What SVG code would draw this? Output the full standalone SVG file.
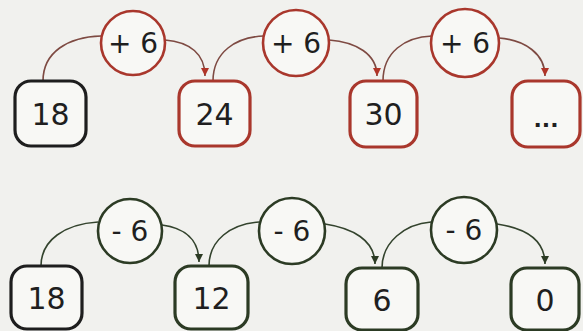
<svg xmlns="http://www.w3.org/2000/svg" width="583" height="331" viewBox="0 0 583 331">
  <style>
    .bg { fill: #f1f1ee; }
    .box { fill: #f8f8f5; stroke-width: 3.2; }
    .start { stroke: #1e1e1e; }
    .red { stroke: #a9372c; }
    .green { stroke: #2c3b24; }
    .op { fill: #f8f8f5; stroke-width: 2.6; }
    .link { fill: none; stroke-width: 1.6; }
    .link-red { stroke: #7e4a42; }
    .link-green { stroke: #33432d; }
    .num { font-family: "DejaVu Sans", "Liberation Sans", sans-serif; font-size: 30px; fill: #1f1f1f; text-anchor: middle; }
    .opt { font-family: "DejaVu Sans", "Liberation Sans", sans-serif; font-size: 28px; fill: #1f1f1f; text-anchor: middle; }
    .dots { font-family: "DejaVu Sans", "Liberation Sans", sans-serif; font-size: 22px; font-weight: bold; fill: #1f1f1f; text-anchor: middle; }
  </style>
  <defs>
    <marker id="arrow-red" markerUnits="userSpaceOnUse" markerWidth="10" markerHeight="10" refX="8" refY="4" orient="auto">
      <path d="M0,0 L8,4 L0,8 Z" fill="#b03528"/>
    </marker>
    <marker id="arrow-green" markerUnits="userSpaceOnUse" markerWidth="10" markerHeight="10" refX="8" refY="4" orient="auto">
      <path d="M0,0 L8,4 L0,8 Z" fill="#2c3b24"/>
    </marker>
  </defs>

  <rect class="bg" x="0" y="0" width="583" height="331"/>

  <!-- connectors: counting up by 6 -->
  <g id="connectors-add">
    <path class="link link-red" d="M43,81 C43,52 68,37 101,36"/>
    <path class="link link-red" d="M165,40 C190,42 205,54 205,76" marker-end="url(#arrow-red)"/>
    <path class="link link-red" d="M213,81 C213,52 236,37 264,36"/>
    <path class="link link-red" d="M329,40 C356,42 377,54 377,76" marker-end="url(#arrow-red)"/>
    <path class="link link-red" d="M383,81 C383,52 405,37 432,36"/>
    <path class="link link-red" d="M499,38 C525,40 545,54 545,76" marker-end="url(#arrow-red)"/>
  </g>

  <!-- connectors: counting down by 6 -->
  <g id="connectors-sub">
    <path class="link link-green" d="M41,266 C41,240 65,224 98,222"/>
    <path class="link link-green" d="M162,225 C185,228 199,240 199,262" marker-end="url(#arrow-green)"/>
    <path class="link link-green" d="M209,266 C209,240 231,224 259,222"/>
    <path class="link link-green" d="M325,224 C352,228 375,240 375,264" marker-end="url(#arrow-green)"/>
    <path class="link link-green" d="M382,268 C382,242 405,224 431,222"/>
    <path class="link link-green" d="M497,224 C525,228 545,240 545,264" marker-end="url(#arrow-green)"/>
  </g>

  <!-- top row -->
  <g id="add-18">
    <rect class="box start" x="15" y="81" width="71" height="65" rx="16"/>
    <text class="num" x="50.5" y="125">18</text>
  </g>
  <g id="add-op-1">
    <circle class="op red" cx="133" cy="43" r="32"/>
    <text class="opt" x="133" y="53">+ 6</text>
  </g>
  <g id="add-24">
    <rect class="box red" x="179" y="81" width="71" height="65" rx="16"/>
    <text class="num" x="214.5" y="125">24</text>
  </g>
  <g id="add-op-2">
    <circle class="op red" cx="296" cy="43" r="33"/>
    <text class="opt" x="296" y="53">+ 6</text>
  </g>
  <g id="add-30">
    <rect class="box red" x="350" y="81" width="67" height="66" rx="16"/>
    <text class="num" x="383.5" y="125">30</text>
  </g>
  <g id="add-op-3">
    <circle class="op red" cx="465" cy="43" r="34"/>
    <text class="opt" x="465" y="53">+ 6</text>
  </g>
  <g id="add-next">
    <rect class="box red" x="512" y="81" width="68" height="66" rx="16"/>
    <text class="dots" x="546" y="127">...</text>
  </g>

  <!-- bottom row -->
  <g id="sub-18">
    <rect class="box start" x="11" y="266" width="71" height="63" rx="16"/>
    <text class="num" x="46.5" y="309">18</text>
  </g>
  <g id="sub-op-1">
    <circle class="op green" cx="130" cy="231" r="32"/>
    <text class="opt" x="130" y="241">- 6</text>
  </g>
  <g id="sub-12">
    <rect class="box green" x="175" y="266" width="73" height="63" rx="16"/>
    <text class="num" x="211.5" y="309">12</text>
  </g>
  <g id="sub-op-2">
    <circle class="op green" cx="292" cy="231" r="33"/>
    <text class="opt" x="292" y="241">- 6</text>
  </g>
  <g id="sub-6">
    <rect class="box green" x="346" y="268" width="72" height="62" rx="16"/>
    <text class="num" x="382" y="311">6</text>
  </g>
  <g id="sub-op-3">
    <circle class="op green" cx="464" cy="230" r="33"/>
    <text class="opt" x="464" y="240">- 6</text>
  </g>
  <g id="sub-0">
    <rect class="box green" x="511" y="268" width="68" height="62" rx="16"/>
    <text class="num" x="545" y="311">0</text>
  </g>
</svg>
